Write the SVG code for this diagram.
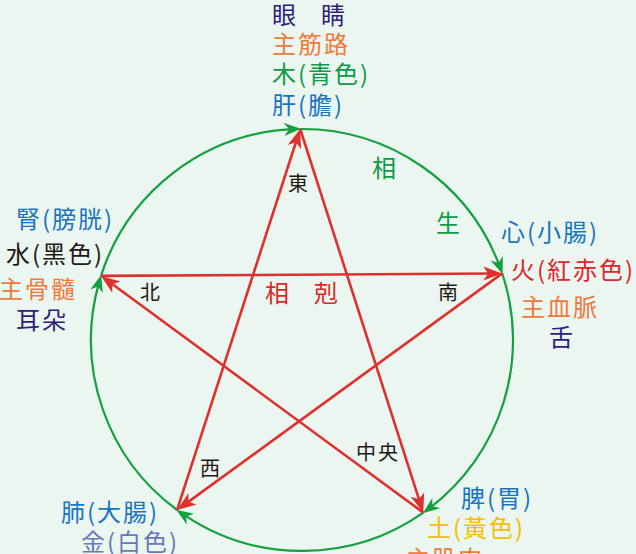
<svg xmlns="http://www.w3.org/2000/svg" width="636" height="554" viewBox="0 0 636 554">
<style>
.t{font-family:"Noto Sans CJK JP","Noto Sans CJK TC",sans-serif;font-size:24px;letter-spacing:2px}
.s{font-family:"Noto Sans CJK JP","Noto Sans CJK TC",sans-serif;font-size:20px;letter-spacing:2px;text-anchor:middle;fill:#231815}
.m{font-family:"Noto Sans CJK JP","Noto Sans CJK TC",sans-serif;font-size:24px;text-anchor:middle}
.pu{fill:#2E1F7A}.or{fill:#EE7A3A}.gr{fill:#0E9A48}.bl{fill:#1A74C0}.bk{fill:#231815}.rd{fill:#E0262A}.ye{fill:#F5BE00}.sl{fill:#6A78B8}
.arc{fill:none;stroke:#14A040;stroke-width:2.2;marker-end:url(#ga)}
.ke{fill:none;stroke:#E0302E;stroke-width:2.6;marker-end:url(#ra)}
</style>
<defs>
<marker id="ga" markerUnits="userSpaceOnUse" orient="auto" refX="0" refY="0" markerWidth="20" markerHeight="20" overflow="visible">
<path d="M9,0 L-8,-6.5 L-3,0 L-8,6.5 Z" fill="#14A040"/>
</marker>
<marker id="ra" markerUnits="userSpaceOnUse" orient="auto" refX="0" refY="0" markerWidth="20" markerHeight="20" overflow="visible">
<path d="M10,0 L-9,-7 L-4,0 L-9,7 Z" fill="#E0302E"/>
</marker>
</defs>
<rect width="636" height="554" fill="#EAF6EF"/>
<g id="connectors">
<path class="arc" d="M101,275.9 A211,211 0 0 1 292.1,129.2"/>
<path class="arc" d="M300.2,129 A211,211 0 0 1 499.5,265.8"/>
<path class="arc" d="M502.2,273.4 A211,211 0 0 1 429.9,507.9"/>
<path class="arc" d="M423.3,512.6 A211,211 0 0 1 183.7,514.7"/>
<path class="arc" d="M177.1,510 A211,211 0 0 1 98.7,283.6"/>
<path class="ke" d="M300.2,129 L420.2,503.1"/>
<path class="ke" d="M423.3,512.6 L109.1,281.8"/>
<path class="ke" d="M101,275.9 L492.2,273.5"/>
<path class="ke" d="M502.2,273.4 L185.2,504.1"/>
<path class="ke" d="M177.1,510 L297.1,138.5"/>
</g>
<g id="labels">
<text class="s" x="299" y="191">東</text>
<text class="s" x="449" y="300">南</text>
<text class="s" x="151" y="300">北</text>
<text class="s" x="211" y="476">西</text>
<text class="s" x="378" y="460">中央</text>
<text class="m gr" x="384" y="177">相</text>
<text class="m gr" x="448" y="232">生</text>
<text class="m rd" x="277" y="302">相</text>
<text class="m rd" x="326" y="302">剋</text>
</g>
<g id="wood">
<text class="t pu" x="272" y="24">眼<tspan x="321">睛</tspan></text>
<text class="t or" x="272" y="53">主筋路</text>
<text class="t gr" x="272" y="83">木(青色)</text>
<text class="t bl" x="272" y="114">肝(膽)</text>
</g>
<g id="fire">
<text class="t bl" x="501" y="241">心(小腸)</text>
<text class="t rd" x="511" y="279">火(紅赤色)</text>
<text class="t or" x="521" y="316">主血脈</text>
<text class="t pu" x="549" y="346">舌</text>
</g>
<g id="earth">
<text class="t bl" x="461" y="507">脾(胃)</text>
<text class="t ye" x="427" y="537">土(黃色)</text>
<text class="t or" x="406" y="568">主肌肉</text>
</g>
<g id="metal">
<text class="t bl" x="61" y="521">肺(大腸)</text>
<text class="t sl" x="81" y="551">金(白色)</text>
</g>
<g id="water">
<text class="t bl" x="16" y="228">腎(膀胱)</text>
<text class="t bk" x="6" y="263">水(黑色)</text>
<text class="t or" x="-1" y="298">主骨髓</text>
<text class="t pu" x="16" y="329">耳朵</text>
</g>
</svg>
